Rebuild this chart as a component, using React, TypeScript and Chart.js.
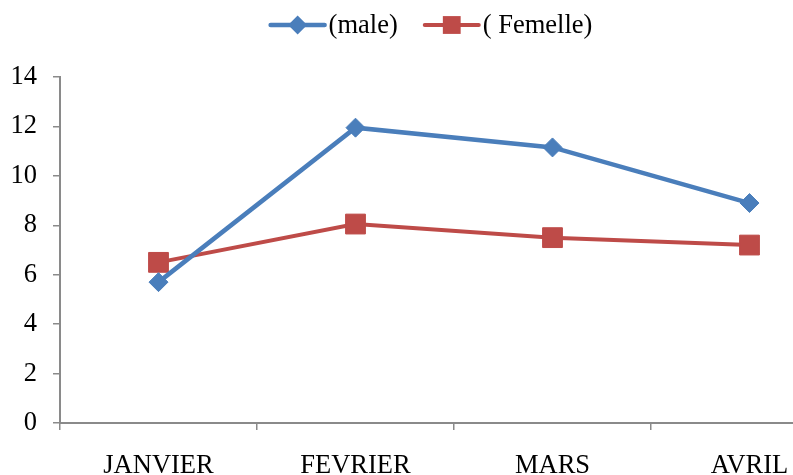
import React, { useEffect, useRef } from "react";
import { Chart, registerables } from "chart.js";

Chart.register(...registerables);

const categories = ["JANVIER", "FEVRIER", "MARS", "AVRIL"];
const maleValues = [5.7, 11.95, 11.15, 8.9];
const femelleValues = [6.5, 8.05, 7.5, 7.2];
const seriesLabels = ["(male)", "( Femelle)"];
const yMin = 0;
const yMax = 14;
const yStep = 2;

const BLUE = "#4A7EBB";
const RED = "#BE4B48";
const AXIS = "#8A8A8A";
const FONT = "'Liberation Serif', 'Times New Roman', serif";
const FONT_SIZE = 26.5;

const legendPlugin = {
  id: "lineLegend",
  afterDraw(chart: any) {
    const ctx = chart.ctx;
    ctx.save();
    ctx.font = `${FONT_SIZE}px ${FONT}`;
    ctx.textBaseline = "middle";
    const lineLen = 54;
    const gap = 4;
    const itemGap = 27;
    const items = chart.data.datasets.map((ds: any) => ({
      ds,
      w: lineLen + gap + ctx.measureText(ds.label).width,
    }));
    const total = items.reduce((a: number, it: any) => a + it.w, 0) + itemGap * (items.length - 1);
    let x = chart.width / 2 - total / 2;
    const y = 25;
    items.forEach((it: any) => {
      const ds = it.ds;
      ctx.strokeStyle = ds.borderColor;
      ctx.lineWidth = ds.borderWidth;
      ctx.lineCap = "round";
      ctx.beginPath();
      ctx.moveTo(x, y);
      ctx.lineTo(x + lineLen, y);
      ctx.stroke();
      const cx = x + lineLen / 2;
      ctx.fillStyle = ds.pointBackgroundColor;
      ctx.beginPath();
      if (ds.pointStyle === "rectRot") {
        const r = ds.pointRadius;
        ctx.moveTo(cx, y - r);
        ctx.lineTo(cx + r, y);
        ctx.lineTo(cx, y + r);
        ctx.lineTo(cx - r, y);
        ctx.closePath();
      } else {
        const s = ds.pointRadius * Math.SQRT1_2 * 0.9;
        ctx.rect(cx - s, y - s, 2 * s, 2 * s);
      }
      ctx.fill();
      ctx.fillStyle = "#000";
      ctx.textAlign = "left";
      ctx.fillText(ds.label, x + lineLen + gap, y + 1);
      x += it.w + itemGap;
    });
    ctx.restore();
  },
};

export default function App() {
  const ref = useRef<HTMLCanvasElement | null>(null);
  useEffect(() => {
    if (!ref.current) return;
    const chart = new Chart(ref.current, {
      type: "line",
      data: {
        labels: categories,
        datasets: [
          {
            label: seriesLabels[0],
            data: maleValues,
            borderColor: BLUE,
            backgroundColor: BLUE,
            pointBackgroundColor: BLUE,
            pointBorderColor: BLUE,
            borderWidth: 4.5,
            pointStyle: "rectRot",
            pointRadius: 9.5,
            pointBorderWidth: 1,
            tension: 0,
          },
          {
            label: seriesLabels[1],
            data: femelleValues,
            borderColor: RED,
            backgroundColor: RED,
            pointBackgroundColor: RED,
            pointBorderColor: RED,
            borderWidth: 4,
            pointStyle: "rect",
            pointRadius: 14,
            pointBorderWidth: 1,
            tension: 0,
          },
        ],
      },
      options: {
        responsive: false,
        animation: false,
        devicePixelRatio: 1,
        layout: { padding: { top: 77, right: 15, left: 0, bottom: 0 } },
        plugins: {
          legend: { display: false },
          tooltip: { enabled: false },
        },
        scales: {
          x: {
            type: "category",
            offset: true,
            grid: {
              offset: true,
              drawOnChartArea: false,
              drawTicks: true,
              tickLength: 7,
              color: AXIS,
              lineWidth: 1.5,
            },
            border: { color: AXIS, width: 2 },
            ticks: {
              color: "#000",
              font: { family: FONT, size: FONT_SIZE },
              padding: 20,
              maxRotation: 0,
              autoSkip: false,
            },
            afterFit: (s: any) => {
              s.height = 52;
            },
          },
          y: {
            min: yMin,
            max: yMax,
            grid: {
              drawOnChartArea: false,
              drawTicks: true,
              tickLength: 7,
              color: AXIS,
              lineWidth: 1.5,
            },
            border: { color: AXIS, width: 2 },
            ticks: {
              stepSize: yStep,
              color: "#000",
              font: { family: FONT, size: FONT_SIZE },
              padding: 16,
            },
            afterFit: (s: any) => {
              s.width = 60;
            },
          },
        },
      },
      plugins: [legendPlugin],
    } as any);
    return () => chart.destroy();
  }, []);
  return (
    <div
      style={{
        position: "fixed",
        left: 0,
        top: 0,
        width: 793,
        height: 475,
        overflow: "hidden",
        background: "#fff",
      }}
    >
      <canvas ref={ref} width={863} height={475} style={{ display: "block", width: 863, height: 475 }} />
    </div>
  );
}
